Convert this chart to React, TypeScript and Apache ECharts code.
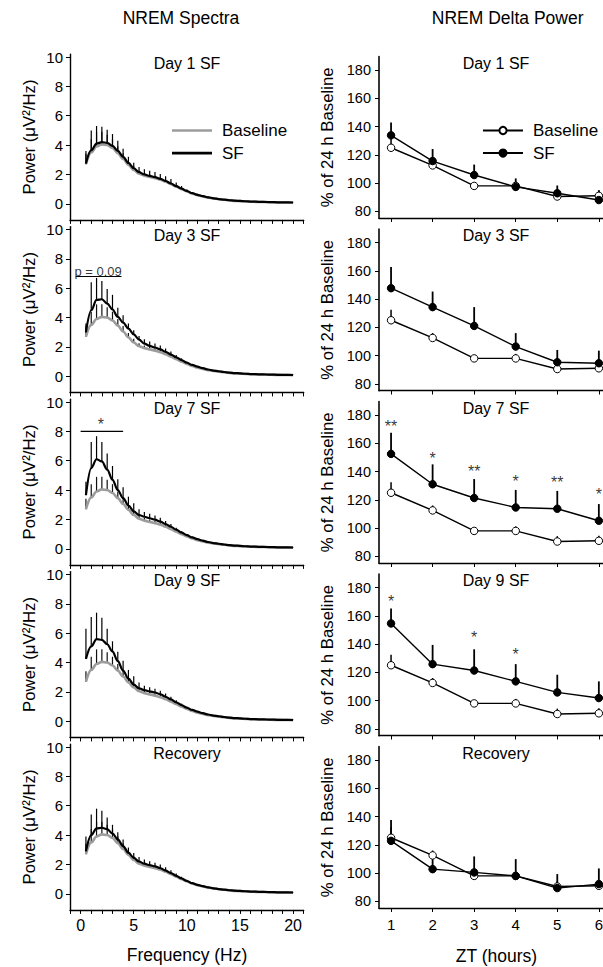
import React, { useEffect, useRef } from 'react';
import * as echarts from 'echarts';

const FONT = '"Liberation Sans", Arial, Helvetica, sans-serif';

// ---------- Spectra (left column) ----------
const FREQ = [0.5, 1, 1.5, 2, 2.5, 3, 3.5, 4, 4.5, 5, 5.5, 6, 6.5, 7, 7.5, 8, 8.5, 9, 9.5, 10,
  10.5, 11, 11.5, 12, 12.5, 13, 13.5, 14, 14.5, 15, 15.5, 16, 16.5, 17, 17.5, 18, 18.5, 19, 19.5, 20];
const FREQ_TICKS = [-1, 0, 1, 2, 3, 4, 5, 6, 7, 8, 9, 10, 11, 12, 13, 14, 15, 16, 17, 18, 19, 20, 21];
const FREQ_LABELS = [0, 5, 10, 15, 20];
const POWER_TICKS = [0, 2, 4, 6, 8, 10];

const BASE_SPEC = [2.7, 3.5, 3.9, 4.05, 4.0, 3.8, 3.45, 3.05, 2.65, 2.3,
  2.05, 1.92, 1.83, 1.75, 1.64, 1.5, 1.34, 1.17, 1.0, 0.84,
  0.7, 0.59, 0.5, 0.42, 0.36, 0.31, 0.27, 0.23, 0.2, 0.18,
  0.16, 0.14, 0.13, 0.12, 0.11, 0.1, 0.095, 0.09, 0.085, 0.08];
const BASE_SPEC_SEM = [0.7, 0.9, 1.0, 0.85, 0.7, 0.6, 0.45, 0.38, 0.3, 0.25,
  0.2, 0.18, 0.17, 0.16, 0.15, 0.13, 0.11, 0.09, 0.07, 0.06,
  0.05, 0.04, 0.035, 0.03, 0.025, 0.02, 0.02, 0.015, 0.015, 0.01,
  0.01, 0.01, 0.01, 0.01, 0.01, 0.01, 0.01, 0.01, 0.01, 0.01];

const SF_SPEC_D1 = [2.75, 3.65, 4.1, 4.2, 4.15, 3.95, 3.6, 3.2, 2.78, 2.42,
  2.15, 2.0, 1.9, 1.82, 1.7, 1.55, 1.38, 1.2, 1.03, 0.87,
  0.72, 0.61, 0.52, 0.44, 0.37, 0.32, 0.28, 0.24, 0.21, 0.19,
  0.17, 0.15, 0.14, 0.13, 0.12, 0.11, 0.1, 0.095, 0.09, 0.085];
const SF_SEM_D1 = [0.85, 1.35, 1.2, 1.05, 0.9, 0.8, 0.7, 0.55, 0.42, 0.38,
  0.35, 0.35, 0.35, 0.34, 0.33, 0.32, 0.3, 0.25, 0.18, 0.12,
  0.09, 0.07, 0.06, 0.05, 0.04, 0.035, 0.03, 0.025, 0.02, 0.02,
  0.015, 0.015, 0.01, 0.01, 0.01, 0.01, 0.01, 0.01, 0.01, 0.01];

const SF_SPEC_D3 = [3.0, 4.5, 5.2, 5.25, 4.95, 4.55, 4.05, 3.65, 3.25, 2.85,
  2.5, 2.22, 2.07, 1.96, 1.83, 1.66, 1.48, 1.29, 1.1, 0.92,
  0.77, 0.65, 0.55, 0.46, 0.39, 0.34, 0.29, 0.25, 0.22, 0.2,
  0.17, 0.15, 0.14, 0.13, 0.12, 0.11, 0.1, 0.095, 0.09, 0.085];
const SF_SEM_D3 = [0.6, 1.9, 1.5, 1.25, 1.0, 1.0, 0.62, 0.5, 0.35, 0.28,
  0.24, 0.3, 0.3, 0.28, 0.26, 0.24, 0.2, 0.16, 0.12, 0.09,
  0.07, 0.05, 0.04, 0.035, 0.03, 0.025, 0.02, 0.02, 0.015, 0.015,
  0.01, 0.01, 0.01, 0.01, 0.01, 0.01, 0.01, 0.01, 0.01, 0.01];

const SF_SPEC_D7 = [3.65, 5.5, 6.1, 5.95, 5.4, 4.7, 4.0, 3.45, 2.95, 2.55,
  2.3, 2.18, 2.08, 1.98, 1.85, 1.68, 1.5, 1.3, 1.1, 0.93,
  0.77, 0.65, 0.55, 0.46, 0.39, 0.34, 0.29, 0.25, 0.22, 0.2,
  0.17, 0.15, 0.14, 0.13, 0.12, 0.11, 0.1, 0.095, 0.09, 0.085];
const SF_SEM_D7 = [0.92, 1.78, 1.57, 1.33, 1.1, 0.94, 0.73, 0.74, 0.6, 0.55,
  0.4, 0.32, 0.3, 0.28, 0.26, 0.22, 0.18, 0.14, 0.1, 0.08,
  0.06, 0.05, 0.04, 0.035, 0.03, 0.025, 0.02, 0.02, 0.015, 0.015,
  0.01, 0.01, 0.01, 0.01, 0.01, 0.01, 0.01, 0.01, 0.01, 0.01];

const SF_SPEC_D9 = [4.25, 5.1, 5.6, 5.55, 5.25, 4.75, 4.1, 3.45, 2.9, 2.5,
  2.25, 2.12, 2.04, 1.96, 1.84, 1.67, 1.49, 1.29, 1.1, 0.92,
  0.77, 0.65, 0.55, 0.46, 0.39, 0.34, 0.29, 0.25, 0.22, 0.2,
  0.17, 0.15, 0.14, 0.13, 0.12, 0.11, 0.1, 0.095, 0.09, 0.085];
const SF_SEM_D9 = [2.05, 2.0, 1.8, 1.5, 1.05, 0.7, 0.63, 0.68, 0.6, 0.57,
  0.4, 0.3, 0.28, 0.26, 0.24, 0.22, 0.18, 0.14, 0.1, 0.08,
  0.06, 0.05, 0.04, 0.035, 0.03, 0.025, 0.02, 0.02, 0.015, 0.015,
  0.01, 0.01, 0.01, 0.01, 0.01, 0.01, 0.01, 0.01, 0.01, 0.01];

const SF_SPEC_REC = [2.9, 4.0, 4.45, 4.5, 4.4, 4.1, 3.7, 3.25, 2.8, 2.45,
  2.2, 2.05, 1.95, 1.86, 1.74, 1.58, 1.41, 1.22, 1.04, 0.87,
  0.72, 0.61, 0.52, 0.44, 0.37, 0.32, 0.28, 0.24, 0.21, 0.19,
  0.17, 0.15, 0.14, 0.13, 0.12, 0.11, 0.1, 0.095, 0.09, 0.085];
const SF_SEM_REC = [1.0, 1.4, 1.35, 1.15, 0.8, 0.6, 0.5, 0.45, 0.35, 0.32,
  0.3, 0.28, 0.27, 0.26, 0.25, 0.23, 0.2, 0.16, 0.12, 0.09,
  0.07, 0.05, 0.04, 0.035, 0.03, 0.025, 0.02, 0.02, 0.015, 0.015,
  0.01, 0.01, 0.01, 0.01, 0.01, 0.01, 0.01, 0.01, 0.01, 0.01];

// significance annotations (spectra)
const SIG_D3_BAR_X = [-0.45, 3.85];
const SIG_D3_BAR_Y = 6.8;
const SIG_D3_TEXT = 'p = 0.09';
const SIG_D3_TEXT_X = 1.65;
const SIG_D7_BAR_X = [0, 4];
const SIG_D7_BAR_Y = 8.0;
const SIG_D7_TEXT = '*';
const SIG_D7_TEXT_X = 1.9;

// ---------- Delta power (right column) ----------
const ZT = [1, 2, 3, 4, 5, 6];
const DELTA_TICKS = [80, 100, 120, 140, 160, 180];
const BASE_DELTA = [125, 112.5, 98, 98, 90.5, 91];
const BASE_DELTA_SEM = [7.4, 3.5, 1.5, 3.2, 3.8, 3.5];
const SF_DELTA_D1 = [133.8, 115.6, 105.7, 97.3, 92.8, 88];
const SF_DELTA_SEM_D1 = [9, 8.5, 7.4, 6, 5.5, 7];
const SF_DELTA_D3 = [147.7, 134.3, 121, 106.4, 95.3, 94.6];
const SF_DELTA_SEM_D3 = [14.9, 11, 13.3, 9.5, 8.7, 8.9];
const SF_DELTA_D7 = [152.5, 131, 121.3, 114.6, 113.7, 105.2];
const SF_DELTA_SEM_D7 = [15, 14.1, 13.4, 12.4, 12.6, 11.8];
const SF_DELTA_D9 = [154.6, 125.8, 121.3, 113.6, 105.8, 101.8];
const SF_DELTA_SEM_D9 = [10.6, 13.6, 15, 12.2, 12.5, 11.8];
const SF_DELTA_REC = [122.8, 102.8, 100.5, 98, 89.4, 92.2];
const SF_DELTA_SEM_REC = [14.8, 10, 11.3, 11.9, 9.9, 11.1];

const STAR_ZT_D7 = [1, 2, 3, 4, 5, 6];
const STAR_TXT_D7 = ['**', '*', '**', '*', '**', '*'];
const STAR_Y_D7 = [174, 151.8, 142.5, 135.3, 134.6, 125.9];
const STAR_ZT_D9 = [1, 3, 4];
const STAR_TXT_D9 = ['*', '*', '*'];
const STAR_Y_D9 = [172.7, 147.1, 135];

const PANEL_TITLES = ['Day 1 SF', 'Day 3 SF', 'Day 7 SF', 'Day 9 SF', 'Recovery'];

const SPEC_SF = [SF_SPEC_D1, SF_SPEC_D3, SF_SPEC_D7, SF_SPEC_D9, SF_SPEC_REC];
const SPEC_SEM = [SF_SEM_D1, SF_SEM_D3, SF_SEM_D7, SF_SEM_D9, SF_SEM_REC];
const DELTA_SF = [SF_DELTA_D1, SF_DELTA_D3, SF_DELTA_D7, SF_DELTA_D9, SF_DELTA_REC];
const DELTA_SEM = [SF_DELTA_SEM_D1, SF_DELTA_SEM_D3, SF_DELTA_SEM_D7, SF_DELTA_SEM_D9, SF_DELTA_SEM_REC];

const PITCH = 172.5;
const GRAY = '#9c9c9c';

function errBars(data: number[][], axis: number, color: string, width: number, z: number) {
  return {
    type: 'custom',
    xAxisIndex: axis,
    yAxisIndex: axis,
    z,
    silent: true,
    data,
    encode: { x: 0, y: 1 },
    renderItem: (_p: any, api: any) => {
      const x = api.value(0);
      const y = api.value(1);
      const e = api.value(2);
      const a = api.coord([x, y]);
      const b = api.coord([x, y + e]);
      return {
        type: 'line',
        shape: { x1: a[0], y1: a[1], x2: b[0], y2: b[1] },
        style: { stroke: color, lineWidth: width },
      };
    },
  };
}

function textEl(text: string, x: number, y: number, size: number) {
  return {
    type: 'text',
    x,
    y,
    silent: true,
    style: {
      text,
      fontSize: size,
      fontFamily: FONT,
      fill: '#000',
      align: 'center',
      verticalAlign: 'middle',
      textAlign: 'center',
      textVerticalAlign: 'middle',
    },
  };
}

function buildOption() {
  const grid: any[] = [];
  const xAxis: any[] = [];
  const yAxis: any[] = [];
  const series: any[] = [];
  const graphic: any[] = [];

  const axisLine = { show: true, onZero: false, lineStyle: { color: '#000', width: 1.4 } };
  const tickStyle = { color: '#000', width: 1 };

  for (let i = 0; i < 5; i++) {
    grid.push({ left: 70, width: 233.7, top: 54.1 + PITCH * i, height: 165.8, outerBoundsMode: 'none', containLabel: false });
    xAxis.push({
      type: 'value', gridIndex: i, min: -1, max: 21,
      axisLine, splitLine: { show: false },
      axisTick: { show: true, customValues: FREQ_TICKS, length: 4, lineStyle: tickStyle },
      axisLabel: { show: i === 4, customValues: FREQ_LABELS, fontSize: 16, color: '#000', margin: 8, fontFamily: FONT },
    });
    yAxis.push({
      type: 'value', gridIndex: i, min: -1.1, max: 10.2,
      axisLine, splitLine: { show: false },
      axisTick: { show: true, customValues: POWER_TICKS, length: 4, lineStyle: tickStyle },
      axisLabel: { customValues: POWER_TICKS, fontSize: 15, color: '#000', margin: 7, fontFamily: FONT },
      name: 'Power (μV²/Hz)', nameLocation: 'middle', nameGap: 32.5,
      nameTextStyle: { fontSize: 16.8, color: '#000', fontFamily: FONT },
    });
  }
  for (let i = 0; i < 5; i++) {
    grid.push({ left: 379, width: 224, top: 56.6 + PITCH * i, height: 161.4, outerBoundsMode: 'none', containLabel: false });
    xAxis.push({
      type: 'value', gridIndex: 5 + i, min: 0.71, max: 6.1,
      axisLine, splitLine: { show: false },
      axisTick: { show: true, customValues: ZT, length: 4, lineStyle: tickStyle },
      axisLabel: { show: i === 4, customValues: ZT, fontSize: 15, color: '#000', margin: 9, fontFamily: FONT },
    });
    yAxis.push({
      type: 'value', gridIndex: 5 + i, min: 75.3, max: 189.5,
      axisLine: { show: true, onZero: false, lineStyle: { color: '#222', width: 1.8 } },
      splitLine: { show: false },
      axisTick: { show: true, customValues: DELTA_TICKS, length: 4, lineStyle: tickStyle },
      axisLabel: { customValues: DELTA_TICKS, fontSize: 14.5, color: '#000', margin: 8, fontFamily: FONT },
      name: '% of 24 h Baseline', nameLocation: 'middle', nameGap: 42.7,
      nameTextStyle: { fontSize: 16.8, color: '#000', fontFamily: FONT },
    });
  }

  // left series
  for (let i = 0; i < 5; i++) {
    const sf = SPEC_SF[i];
    const sem = SPEC_SEM[i];
    series.push(errBars(FREQ.map((f, k) => [f, BASE_SPEC[k], BASE_SPEC_SEM[k]]), i, '#111', 1.2, 2));
    series.push({
      type: 'line', name: 'Baseline', xAxisIndex: i, yAxisIndex: i, z: 3, silent: true,
      symbol: 'none', smooth: 0.35, smoothMonotone: 'x', data: FREQ.map((f, k) => [f, BASE_SPEC[k]]),
      lineStyle: { color: GRAY, width: 2.6 }, itemStyle: { color: GRAY },
    });
    series.push(errBars(FREQ.map((f, k) => [f, sf[k], sem[k]]), i, '#000', 1.2, 4));
    series.push({
      type: 'line', name: 'SF', xAxisIndex: i, yAxisIndex: i, z: 5, silent: true,
      symbol: 'none', smooth: 0.35, smoothMonotone: 'x', data: FREQ.map((f, k) => [f, sf[k]]),
      lineStyle: { color: '#000', width: 2.2 }, itemStyle: { color: '#000' },
    });
  }
  // spectra annotations
  series.push({
    type: 'line', xAxisIndex: 1, yAxisIndex: 1, z: 6, silent: true, symbol: 'none',
    data: SIG_D3_BAR_X.map((x) => [x, SIG_D3_BAR_Y]),
    lineStyle: { color: '#000', width: 1.2 },
  });
  series.push({
    type: 'scatter', xAxisIndex: 1, yAxisIndex: 1, z: 6, silent: true, symbolSize: 0,
    data: [{ value: [SIG_D3_TEXT_X, SIG_D3_BAR_Y], name: SIG_D3_TEXT }],
    label: { show: true, position: 'inside', formatter: '{b}', fontSize: 13, color: '#000', offset: [0, -5], fontFamily: FONT },
  });
  series.push({
    type: 'line', xAxisIndex: 2, yAxisIndex: 2, z: 6, silent: true, symbol: 'none',
    data: SIG_D7_BAR_X.map((x) => [x, SIG_D7_BAR_Y]),
    lineStyle: { color: '#000', width: 1.2 },
  });
  series.push({
    type: 'scatter', xAxisIndex: 2, yAxisIndex: 2, z: 6, silent: true, symbolSize: 0,
    data: [{ value: [SIG_D7_TEXT_X, SIG_D7_BAR_Y], name: SIG_D7_TEXT }],
    label: { show: true, position: 'inside', formatter: '{b}', fontSize: 16, color: '#000', offset: [0, -6.5], fontFamily: FONT },
  });

  // right series
  for (let i = 0; i < 5; i++) {
    const ax = 5 + i;
    const sf = DELTA_SF[i];
    const sem = DELTA_SEM[i];
    series.push(errBars(ZT.map((z, k) => [z, sf[k], sem[k]]), ax, '#000', 1.8, 2));
    series.push(errBars(ZT.map((z, k) => [z, BASE_DELTA[k], BASE_DELTA_SEM[k]]), ax, '#000', 1.5, 2));
    series.push({
      type: 'line', name: 'Baseline (ZT)', xAxisIndex: ax, yAxisIndex: ax, z: 4, silent: true,
      symbol: 'circle', symbolSize: 7.5, data: ZT.map((z, k) => [z, BASE_DELTA[k]]),
      lineStyle: { color: '#000', width: 1.4 },
      itemStyle: { color: '#fff', borderColor: '#000', borderWidth: 1 },
    });
    series.push({
      type: 'line', name: 'SF (ZT)', xAxisIndex: ax, yAxisIndex: ax, z: 5, silent: true,
      symbol: 'circle', symbolSize: 7.5, data: ZT.map((z, k) => [z, sf[k]]),
      lineStyle: { color: '#000', width: 1.4 },
      itemStyle: { color: '#000', borderColor: '#000', borderWidth: 1 },
    });
  }
  const starSeries = (ax: number, xs: number[], ys: number[], txt: string[]) => ({
    type: 'scatter', xAxisIndex: ax, yAxisIndex: ax, z: 6, silent: true, symbolSize: 0,
    data: xs.map((x, k) => ({ value: [x, ys[k]], name: txt[k] })),
    label: { show: true, position: 'inside', formatter: '{b}', fontSize: 16, color: '#000', offset: [0, 3.3], fontFamily: FONT },
  });
  series.push(starSeries(7, STAR_ZT_D7, STAR_Y_D7, STAR_TXT_D7));
  series.push(starSeries(8, STAR_ZT_D9, STAR_Y_D9, STAR_TXT_D9));

  // texts
  graphic.push(textEl('NREM Spectra', 181, 18, 17.5));
  graphic.push(textEl('NREM Delta Power', 507.7, 18, 17.5));
  for (let i = 0; i < 5; i++) {
    graphic.push(textEl(PANEL_TITLES[i], 187, 63 + PITCH * i, 16));
    graphic.push(textEl(PANEL_TITLES[i], 496, 63 + PITCH * i, 16));
  }
  graphic.push(textEl('Frequency (Hz)', 187, 955, 17.5));
  graphic.push(textEl('ZT (hours)', 496.5, 956, 17.5));

  const legendText = { fontSize: 17, color: '#000', fontFamily: FONT, padding: [0, 0, 0, 5] };

  return {
    animation: false,
    textStyle: { fontFamily: FONT },
    grid, xAxis, yAxis, series, graphic,
    legend: [
      {
        orient: 'vertical', selectedMode: false, itemWidth: 40, itemHeight: 2.6, itemGap: 5.6,
        padding: 0, textStyle: legendText, left: 172, top: 122,
        data: [
          { name: 'Baseline', icon: 'rect', itemStyle: { color: GRAY } },
          { name: 'SF', icon: 'rect', itemStyle: { color: '#000' } },
        ],
      },
      {
        orient: 'vertical', selectedMode: false, itemWidth: 40, itemHeight: 9, itemGap: 5.6,
        padding: 0, textStyle: legendText, left: 482, top: 122,
        data: ['Baseline (ZT)', 'SF (ZT)'],
        formatter: (n: string) => n.replace(' (ZT)', ''),
      },
    ],
  };
}

export default function App() {
  const ref = useRef<HTMLDivElement>(null);
  useEffect(() => {
    if (!ref.current) return;
    const chart = echarts.init(ref.current, null, { renderer: 'svg' });
    chart.setOption(buildOption() as any);
    return () => chart.dispose();
  }, []);
  return (
    <div
      ref={ref}
      style={{ position: 'absolute', left: 0, top: 0, width: 603, height: 967, background: '#fff' }}
    />
  );
}
